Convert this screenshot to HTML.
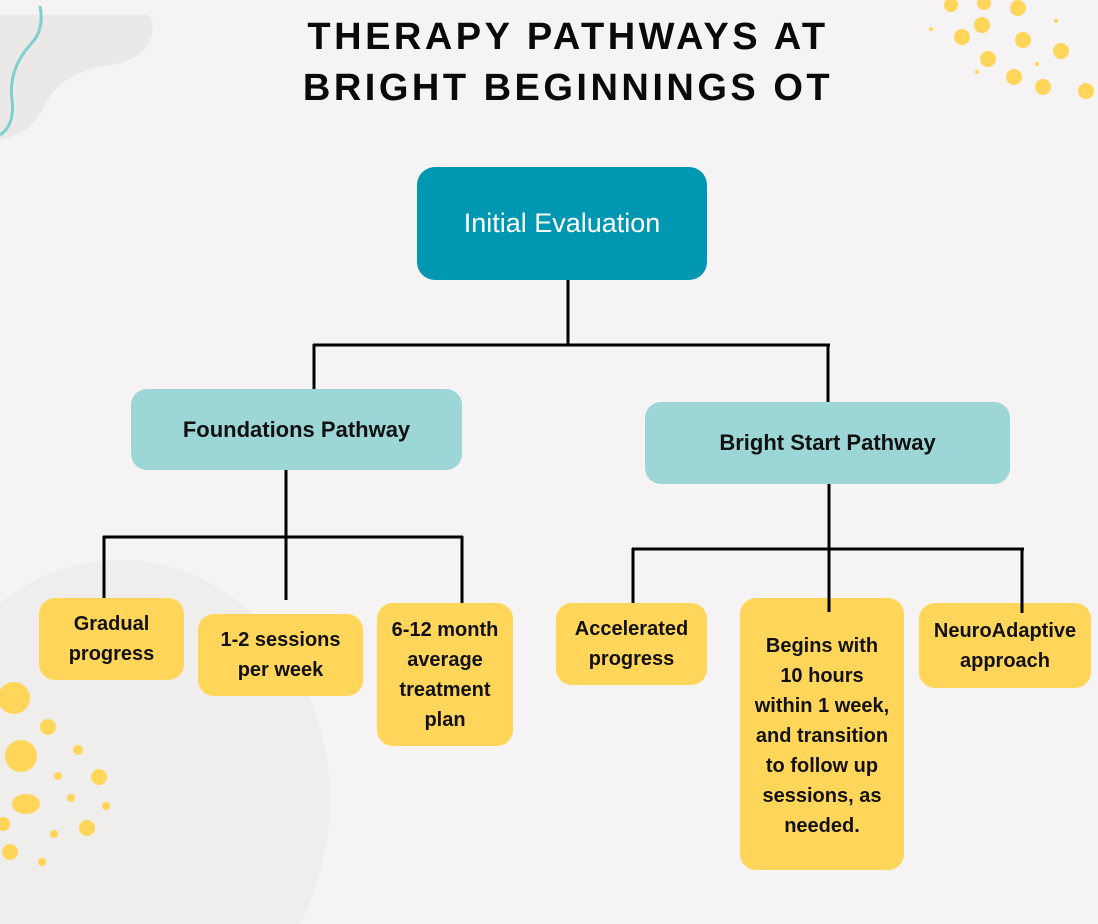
<!DOCTYPE html>
<html><head><meta charset="utf-8"><style>
body{margin:0;background:#f6f3f4;overflow:hidden;}
.w{position:relative;width:1098px;height:924px;overflow:hidden;background:#f6f3f4;font-family:"Liberation Sans",sans-serif;}
.b{position:absolute;display:flex;align-items:center;justify-content:center;text-align:center;box-sizing:border-box;border-radius:16px;color:#111;font-weight:bold;}
.y{background:#ffd55a;font-size:20px;line-height:30px;}
.t{background:#9dd6d6;font-size:22px;}
.h{position:absolute;left:0;width:1098px;box-sizing:border-box;padding-left:38px;text-align:center;font-weight:bold;font-size:38px;letter-spacing:3.5px;color:#0a0a0a;line-height:51px;top:12px;}
</style></head><body><div class="w">
<svg width="1098" height="924" style="position:absolute;left:0;top:0">
<path d="M0 15 L145 15 Q155 15 152 35 Q145 60 110 65 Q60 72 45 105 Q30 135 0 140 Z" fill="#ebe8e8"/>
<path d="M40 6 Q45 30 30 45 Q8 70 12 100 Q15 125 0 135" stroke="#7fcfcf" stroke-width="3" fill="none"/>
<ellipse cx="120" cy="800" rx="210" ry="240" fill="#f0eded"/>
<g fill="#ffd55a">
<circle cx="951" cy="5" r="7"/><circle cx="984" cy="3" r="7"/><circle cx="1018" cy="8" r="8"/>
<circle cx="982" cy="25" r="8"/><circle cx="962" cy="37" r="8"/><circle cx="1023" cy="40" r="8"/>
<circle cx="1061" cy="51" r="8"/><circle cx="988" cy="59" r="8"/><circle cx="1014" cy="77" r="8"/>
<circle cx="1043" cy="87" r="8"/><circle cx="1086" cy="91" r="8"/>
<circle cx="931" cy="29" r="2"/><circle cx="1056" cy="21" r="2"/><circle cx="1037" cy="64" r="2"/><circle cx="977" cy="72" r="2"/>
<circle cx="14" cy="698" r="16"/><circle cx="48" cy="727" r="8"/><circle cx="21" cy="756" r="16"/>
<circle cx="78" cy="750" r="5"/><circle cx="58" cy="776" r="4"/><circle cx="99" cy="777" r="8"/>
<circle cx="71" cy="798" r="4"/><circle cx="106" cy="806" r="4"/><ellipse cx="26" cy="804" rx="14" ry="10"/>
<circle cx="3" cy="824" r="7"/><circle cx="87" cy="828" r="8"/><circle cx="54" cy="834" r="4"/>
<circle cx="10" cy="852" r="8"/><circle cx="42" cy="862" r="4"/>
</g>
<g stroke="#000" stroke-width="3" fill="none">
<path d="M568 280V345M313 345H830M314 344V389M828 344V402"/>
<path d="M286 470V600M103 537H463M104 536V598M462 536V603"/>
<path d="M829 484V612M632 549H1024M633 548V603M1022 548V613"/>
</g>
</svg>
<div class="h">THERAPY PATHWAYS AT<br>BRIGHT BEGINNINGS OT</div>
<div class="b" style="left:417px;top:167px;width:290px;height:113px;background:#0097b2;color:#fff;font-weight:normal;font-size:27px;border-radius:18px">Initial Evaluation</div>
<div class="b t" style="left:131px;top:389px;width:331px;height:81px">Foundations Pathway</div>
<div class="b t" style="left:645px;top:402px;width:365px;height:82px">Bright Start Pathway</div>
<div class="b y" style="left:39px;top:598px;width:145px;height:82px">Gradual<br>progress</div>
<div class="b y" style="left:198px;top:614px;width:165px;height:82px">1-2 sessions<br>per week</div>
<div class="b y" style="left:377px;top:603px;width:136px;height:143px">6-12 month<br>average<br>treatment<br>plan</div>
<div class="b y" style="left:556px;top:603px;width:151px;height:82px">Accelerated<br>progress</div>
<div class="b y" style="left:740px;top:598px;width:164px;height:272px;padding-top:4px">Begins with<br>10 hours<br>within 1 week,<br>and transition<br>to follow up<br>sessions, as<br>needed.</div>
<div class="b y" style="left:919px;top:603px;width:172px;height:85px">NeuroAdaptive<br>approach</div>
<svg width="1098" height="924" style="position:absolute;left:0;top:0;pointer-events:none"><path d="M829 598V612M1022 603V613" stroke="#000" stroke-width="3"/></svg>
</div></body></html>
